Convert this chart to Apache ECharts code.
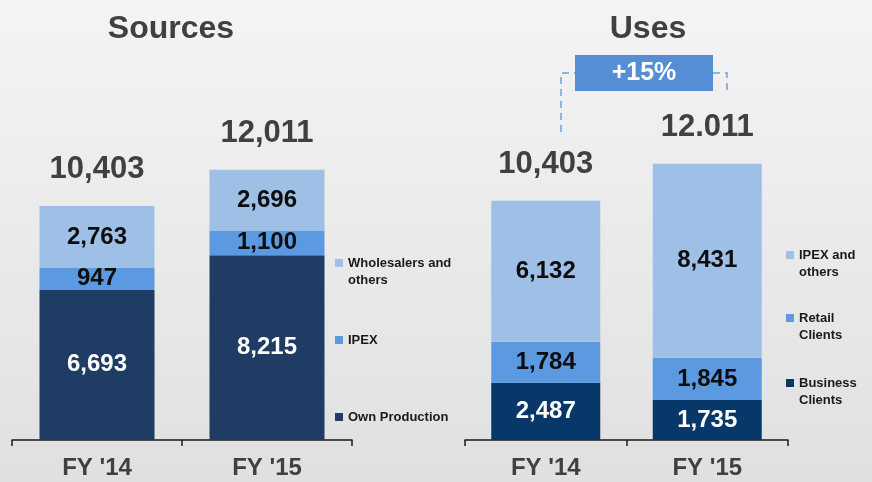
<!DOCTYPE html>
<html>
<head>
<meta charset="utf-8">
<script src="https://cdn.jsdelivr.net/npm/echarts@6/dist/echarts.min.js"></script>
<style>
  html, body { margin: 0; padding: 0; }
  #chart { width: 872px; height: 482px; }
</style>
</head>
<body>
<div id="chart"></div>
<script>
// categories
const years = ["FY '14", "FY '15"]

// Sources (left)
const ownProduction = [6693, 8215]
const ipexSource = [947, 1100]
const wholesalers = [2763, 2696]
const sourceTotals = [10403, 12011]
const sourceTotalLabels = ['10,403', '12,011']

// Uses (right)
const businessClients = [2487, 1735]
const retailClients = [1784, 1845]
const ipexOthers = [6132, 8431]
const useTotals = [10403, 12011]
const useTotalLabels = ['10,403', '12.011']

const growthLabel = '+15%'

const LIGHT = '#9ec0e6'
const MID = '#5b9ae0'
const DARK_L = '#1f3c65'
const DARK_R = '#083769'
const FONT = '"Liberation Sans", Arial, sans-serif'

const fmt = v => v.toLocaleString('en-US')

function segLabel(color) {
  return {
    show: true,
    position: 'inside',
    formatter: p => fmt(p.value),
    color: color,
    fontFamily: FONT,
    fontWeight: 'bold',
    fontSize: 24
  }
}

function totalSeries(axis, values, labels) {
  return {
    type: 'scatter',
    xAxisIndex: axis,
    yAxisIndex: axis,
    data: values,
    symbolSize: 1,
    itemStyle: { color: 'rgba(0,0,0,0)', opacity: 1 },
    silent: true,
    label: {
      show: true,
      position: 'top',
      distance: 20,
      formatter: p => labels[p.dataIndex],
      color: '#404040',
      fontFamily: FONT,
      fontWeight: 'bold',
      fontSize: 31
    }
  }
}

function xAxisFor(grid) {
  return {
    type: 'category',
    gridIndex: grid,
    data: years,
    axisLine: { lineStyle: { color: '#1a1a1a', width: 1.5 } },
    axisTick: { show: true, length: 6, lineStyle: { color: '#1a1a1a', width: 1.5 } },
    axisLabel: { color: '#404040', fontFamily: FONT, fontWeight: 'bold', fontSize: 24, margin: 16 }
  }
}

function legendItem(left, top, name, multi) {
  return {
    orient: 'vertical',
    left: left,
    top: top,
    padding: 0,
    icon: 'rect',
    itemWidth: 8,
    itemHeight: 8,
    selectedMode: false,
    // two-line names get an empty first line so the marker sits on the first text line
    formatter: n => (multi ? '\n' + n : n),
    textStyle: { color: '#1a1a1a', fontFamily: FONT, fontWeight: 'bold', fontSize: 13, lineHeight: 17 },
    data: [name]
  }
}

const chart = echarts.init(document.getElementById('chart'))

chart.setOption({
  backgroundColor: new echarts.graphic.LinearGradient(0, 0, 0, 1, [
    { offset: 0, color: '#f4f4f4' },
    { offset: 1, color: '#e0e0e0' }
  ]),
  animation: false,
  title: [
    { text: 'Sources', left: 166, top: 8, textAlign: 'center', textStyle: { color: '#404040', fontFamily: FONT, fontWeight: 'bold', fontSize: 32 } },
    { text: 'Uses', left: 643, top: 8, textAlign: 'center', textStyle: { color: '#404040', fontFamily: FONT, fontWeight: 'bold', fontSize: 32 } }
  ],
  legend: [
    legendItem(335, 237.5, 'Wholesalers and\nothers', true),
    legendItem(335, 331.5, 'IPEX', false),
    legendItem(335, 408.5, 'Own Production', false),
    legendItem(786, 229.5, 'IPEX and\nothers', true),
    legendItem(786, 292.5, 'Retail\nClients', true),
    legendItem(786, 357.5, 'Business\nClients', true)
  ],
  grid: [
    { left: 12, width: 340, top: 125, bottom: 42 },
    { left: 465, width: 323, top: 118, bottom: 42 }
  ],
  xAxis: [xAxisFor(0), xAxisFor(1)],
  yAxis: [
    { type: 'value', gridIndex: 0, min: 0, max: 14000, show: false },
    { type: 'value', gridIndex: 1, min: 0, max: 14000, show: false }
  ],
  series: [
    { name: 'Own Production', type: 'bar', stack: 'src', xAxisIndex: 0, yAxisIndex: 0, barWidth: 115, data: ownProduction, itemStyle: { color: DARK_L }, label: segLabel('#ffffff') },
    { name: 'IPEX', type: 'bar', stack: 'src', xAxisIndex: 0, yAxisIndex: 0, barWidth: 115, data: ipexSource, itemStyle: { color: MID }, label: segLabel('#0d0d0d') },
    { name: 'Wholesalers and\nothers', type: 'bar', stack: 'src', xAxisIndex: 0, yAxisIndex: 0, barWidth: 115, data: wholesalers, itemStyle: { color: LIGHT }, label: segLabel('#0d0d0d') },
    totalSeries(0, sourceTotals, sourceTotalLabels),

    { name: 'Business\nClients', type: 'bar', stack: 'use', xAxisIndex: 1, yAxisIndex: 1, barWidth: 109, data: businessClients, itemStyle: { color: DARK_R }, label: segLabel('#ffffff') },
    { name: 'Retail\nClients', type: 'bar', stack: 'use', xAxisIndex: 1, yAxisIndex: 1, barWidth: 109, data: retailClients, itemStyle: { color: MID }, label: segLabel('#0d0d0d') },
    { name: 'IPEX and\nothers', type: 'bar', stack: 'use', xAxisIndex: 1, yAxisIndex: 1, barWidth: 109, data: ipexOthers, itemStyle: { color: LIGHT }, label: segLabel('#0d0d0d') },
    totalSeries(1, useTotals, useTotalLabels)
  ],
  graphic: [
    // dashed bracket linking the two totals
    { type: 'polyline', silent: true, shape: { points: [[561, 132], [561, 73], [575, 73]] }, style: { stroke: '#8db4e2', lineWidth: 2, lineDash: [7, 5], fill: null } },
    { type: 'polyline', silent: true, shape: { points: [[713, 73], [727, 73], [727, 93]] }, style: { stroke: '#8db4e2', lineWidth: 2, lineDash: [7, 5], fill: null } },
    { type: 'rect', silent: true, shape: { x: 575, y: 55, width: 138, height: 36 }, style: { fill: '#558ed5' } },
    { type: 'text', silent: true, x: 644, y: 73, style: { text: growthLabel, fill: '#ffffff', font: 'bold 25px ' + FONT, align: 'center', verticalAlign: 'middle' } }
  ]
})
</script>
</body>
</html>
